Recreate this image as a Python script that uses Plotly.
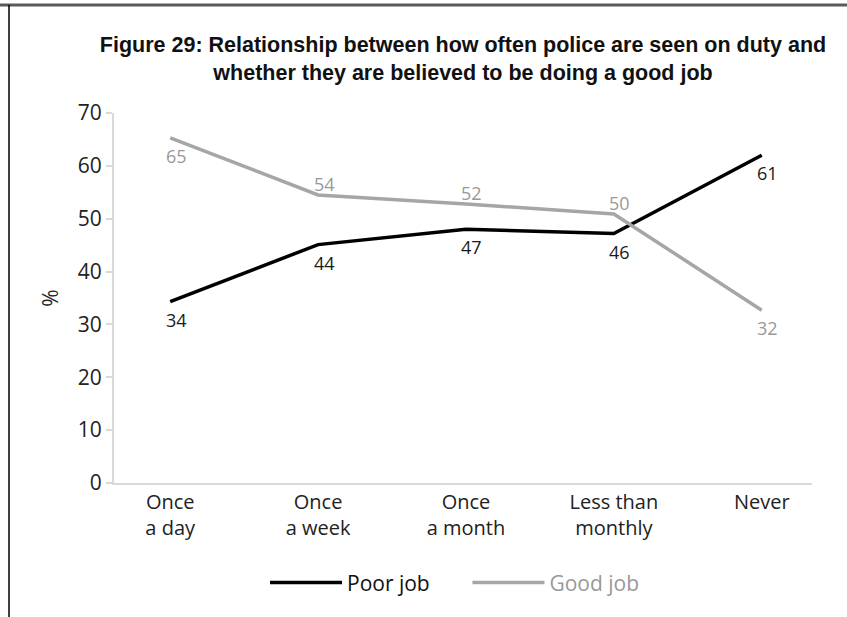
import plotly.graph_objects as go

categories = ["Once<br>a day", "Once<br>a week", "Once<br>a month", "Less than<br>monthly", "Never"]
poor_values = [34.3, 45.1, 48.0, 47.2, 62.0]
good_values = [65.3, 54.5, 52.8, 50.9, 32.7]
poor_labels = ["34", "44", "47", "46", "61"]
good_labels = ["65", "54", "52", "50", "32"]
poor_label_side = ["below", "below", "below", "below", "below"]
good_label_side = ["below", "above", "above", "above", "below"]
y_ticks = [0, 10, 20, 30, 40, 50, 60, 70]

W, H = 847, 617
ML, MR, MT, MB = 114, 35, 113, 134
FONT = "Open Sans"

fig = go.Figure()
fig.add_trace(go.Scatter(
    x=categories, y=poor_values, mode="lines",
    name="Poor job" + "&nbsp;" * 6,
    line=dict(color="#000000", width=3.5),
))
fig.add_trace(go.Scatter(
    x=categories, y=good_values, mode="lines",
    name="<span style='color:#999999'>Good job</span>",
    line=dict(color="#a6a6a6", width=3.5),
))

def add_labels(values, labels, sides, color):
    for cat, v, lab, side in zip(categories, values, labels, sides):
        fig.add_annotation(
            x=cat, y=v, text=lab, showarrow=False,
            xshift=6, yshift=(11 if side == "above" else -18),
            font=dict(family=FONT, size=18, color=color),
        )

add_labels(poor_values, poor_labels, poor_label_side, "#1a1a1a")
add_labels(good_values, good_labels, good_label_side, "#999999")

pw = W - ML - MR
ph = H - MT - MB
# frame: top line and left line
fig.add_shape(type="line", xref="paper", yref="paper",
              x0=(0 - ML) / pw, x1=(W - ML) / pw,
              y0=(H - MB - 5) / ph, y1=(H - MB - 5) / ph,
              line=dict(color="#5a5a5a", width=3))
fig.add_shape(type="line", xref="paper", yref="paper",
              x0=(9 - ML) / pw, x1=(9 - ML) / pw,
              y0=(H - MB - 5) / ph, y1=(H - MB - H - 5) / ph,
              line=dict(color="#000000", width=1.5))

fig.update_layout(
    width=W, height=H,
    margin=dict(l=ML, r=MR, t=MT, b=MB),
    paper_bgcolor="white", plot_bgcolor="white",
    title=dict(
        text="<b>Figure 29: Relationship between how often police are seen on duty and<br>whether they are believed to be doing a good job</b>",
        x=(463 - ML) / pw, xref="paper", xanchor="center", y=1 - 52 / H, yanchor="middle",
        font=dict(family="Liberation Sans", size=21.5, color="#111111"),
    ),
    font=dict(family=FONT, size=20, color="#222222"),
    xaxis=dict(
        showgrid=False, showline=True, linecolor="#d9d9d9", linewidth=2,
        ticks="", range=[-0.38, 4.34], tickfont=dict(family=FONT, size=20, color="#222222"),
        fixedrange=True,
    ),
    yaxis=dict(
        range=[0, 70], tickvals=y_ticks, showgrid=False, zeroline=False,
        showline=True, linecolor="#d9d9d9", linewidth=2,
        ticks="outside", ticklen=6, tickcolor="#d9d9d9", tickwidth=1.5,
        tickfont=dict(family=FONT, size=21, color="#222222"),
        title=dict(text="%", font=dict(family=FONT, size=21, color="#222222"), standoff=13),
    ),
    legend=dict(orientation="h", x=(455 - ML) / pw, xanchor="center", y=-0.27, yanchor="middle",
                font=dict(family=FONT, size=21, color="#111111"), itemwidth=72, traceorder="normal"),
    showlegend=True,
)

fig.write_html("out.html")
